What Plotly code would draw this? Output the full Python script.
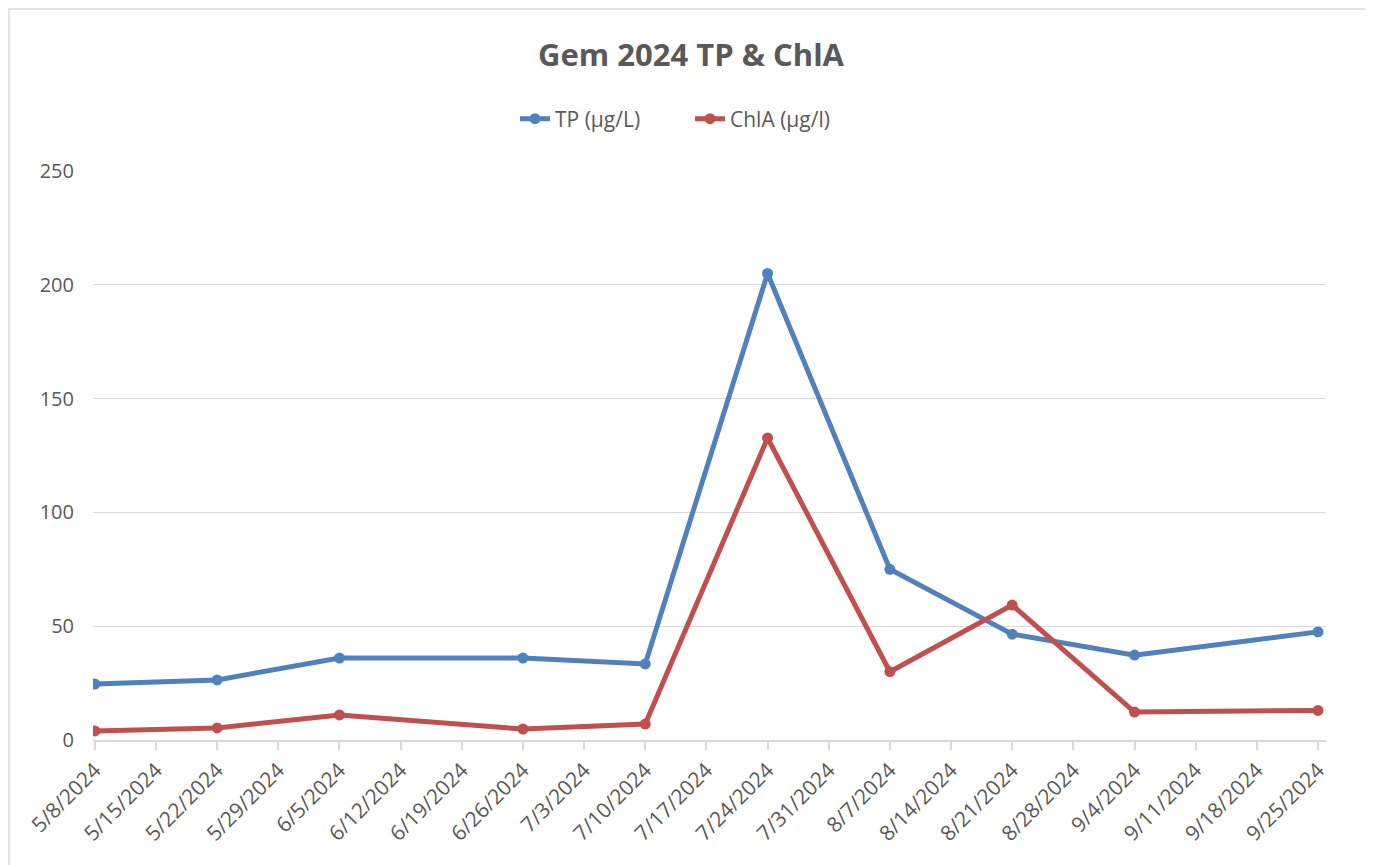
import plotly.graph_objects as go
import pandas as pd

dates = ["2024-05-08", "2024-05-22", "2024-06-05", "2024-06-26", "2024-07-10",
         "2024-07-24", "2024-08-07", "2024-08-21", "2024-09-04", "2024-09-25"]
tp = [24.6, 26.4, 36, 36, 33.4, 205, 75, 46.5, 37.3, 47.5]
chla = [4, 5.3, 11, 4.8, 7, 132.7, 30, 59.3, 12.3, 13]

tick_dates = pd.date_range("2024-05-08", "2024-09-25", freq="7D")
tick_text = [f"{d.month}/{d.day}/{d.year}" for d in tick_dates]

FONT = "Open Sans"
GRAY = "#595959"

fig = go.Figure()
fig.add_trace(go.Scatter(x=dates, y=tp, name="TP (µg/L)", mode="lines+markers",
                         line=dict(color="#4F81BD", width=5),
                         marker=dict(size=11, color="#4F81BD")))
fig.add_trace(go.Scatter(x=dates, y=chla, name="ChlA (µg/l)", mode="lines+markers",
                         line=dict(color="#C0504D", width=5),
                         marker=dict(size=11, color="#C0504D")))

OFF = 8  # page body margin
W, H = 1373 - OFF, 865 - OFF
L = 93 - OFF
T = 171 - OFF
R = W - (1326 - OFF)
B = H - (740 - OFF)

fig.update_layout(
    width=W, height=H,
    margin=dict(l=L, r=R, t=T, b=B, autoexpand=False),
    paper_bgcolor="white", plot_bgcolor="white",
    font=dict(family=FONT, color=GRAY, size=20),
    title=dict(text="<b>Gem 2024 TP & ChlA</b>", x=(691 - OFF) / W, xref="container",
               y=1 - (55 - OFF) / H, yref="container", yanchor="middle", xanchor="center",
               font=dict(size=31, color=GRAY, family=FONT)),
    legend=dict(orientation="h", x=(690 - 93) / (1326 - 93), xanchor="center",
                y=1 + (171 - 119) / (740 - 171), yanchor="middle",
                font=dict(size=21, color=GRAY), entrywidth=130, entrywidthmode="pixels"),
    showlegend=True,
)
pad_l = pd.Timedelta(hours=5)
pad_r = pd.Timedelta(hours=22)
fig.update_xaxes(
    type="date", automargin=False,
    range=[pd.Timestamp("2024-05-08") - pad_l, pd.Timestamp("2024-09-25") + pad_r],
    tickvals=list(tick_dates), ticktext=tick_text, tickangle=-45,
    ticks="outside", ticklen=8, tickcolor="#d9d9d9", tickwidth=1.5,
    showline=True, linecolor="#d9d9d9", linewidth=1.5,
    showgrid=False, zeroline=False,
    tickfont=dict(size=21, color=GRAY, family=FONT),
)
fig.update_yaxes(
    range=[0, 250], tickvals=[0, 50, 100, 150, 200, 250], automargin=False,
    showgrid=True, gridcolor="#d9d9d9", gridwidth=1.2,
    zeroline=False, showline=False, ticks="", ticklabelstandoff=18,
    tickfont=dict(size=20, color=GRAY, family=FONT),
)
# outer chart border
pw, ph = W - L - R, H - T - B
fig.add_shape(type="rect", xref="paper", yref="paper",
              x0=(1 - L) / pw, x1=(1362 - L) / pw,
              y0=1 - (H + 5 - T) / ph, y1=1 - (1 - T) / ph,
              line=dict(color="#d9d9d9", width=1.5), fillcolor="rgba(0,0,0,0)",
              layer="below")

fig.write_html("out.html")
